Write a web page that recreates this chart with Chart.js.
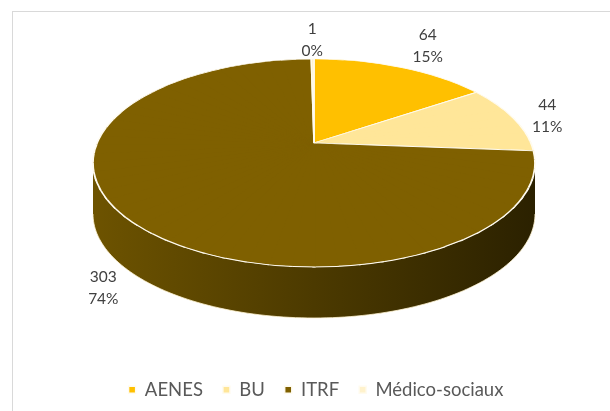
<!DOCTYPE html>
<html>
<head>
<meta charset="utf-8">
<script src="https://cdn.jsdelivr.net/npm/chart.js@4/dist/chart.umd.min.js"></script>
<style>
html,body{margin:0;padding:0;background:#fff;}
#wrap{position:relative;width:610px;height:411px;overflow:hidden;background:#fff;}
#frame{position:absolute;left:12px;top:11px;width:800px;height:600px;border-top:1px solid #d9d9d9;border-left:1px solid #d9d9d9;}
#c{position:absolute;left:0;top:0;}
</style>
</head>
<body>
<div id="wrap"><div id="frame"></div><canvas id="c" width="610" height="411"></canvas></div>
<script>
// ---- data ----
const categories = ['AENES', 'BU', 'ITRF', 'Médico-sociaux'];
const values = [64, 44, 303, 1];
const percentLabels = ['15%', '11%', '74%', '0%'];
const sliceColors = ['#FFC000', '#FFE699', '#7F6000', '#FFF2CC'];

// ---- perspective view of the library's pie (layout only) ----
const PROJ = { ex: 314, ey: 163, rx: 221, ry: 104, k: -0.192, depth: 51, wedges: 72 };
const LABEL = { a: 21, b: 11.3, c: 12.3, lineH: 22, yShift: 2, font: '15.5px Lato', color: '#404040' };

function project(t) {
  const s = Math.sqrt(1 - PROJ.k * PROJ.k);
  const c = Math.cos(t), sn = Math.sin(t);
  const den = 1 + PROJ.k * sn;
  return [PROJ.ex + PROJ.rx * c * s / den, PROJ.ey + PROJ.ry * (sn + PROJ.k) / den];
}
function apex() { return [PROJ.ex, PROJ.ey + PROJ.ry * PROJ.k]; }

function shade(hex, f) {
  const n = parseInt(hex.slice(1), 16);
  const r = Math.round(((n >> 16) & 255) * f), g = Math.round(((n >> 8) & 255) * f), b = Math.round((n & 255) * f);
  return 'rgb(' + r + ',' + g + ',' + b + ')';
}
function unit(v) { const l = Math.hypot(v[0], v[1]); return [v[0] / l, v[1] / l]; }

function drawWall(ctx, els) {
  const lo = Math.asin(-PROJ.k), hi = Math.PI - lo;
  els.forEach((el, i) => {
    const a0 = Math.max(el.startAngle, lo), b0 = Math.min(el.endAngle, hi);
    if (b0 <= a0) return;
    const N = 120;
    ctx.save();
    ctx.beginPath();
    for (let j = 0; j <= N; j++) {
      const p = project(a0 + (b0 - a0) * j / N);
      j ? ctx.lineTo(p[0], p[1]) : ctx.moveTo(p[0], p[1]);
    }
    for (let j = N; j >= 0; j--) {
      const p = project(a0 + (b0 - a0) * j / N);
      ctx.lineTo(p[0], p[1] + PROJ.depth);
    }
    ctx.closePath();
    const col = sliceColors[i];
    const g = ctx.createLinearGradient(PROJ.ex - PROJ.rx, 0, PROJ.ex + PROJ.rx, 0);
    g.addColorStop(0, shade(col, 0.86));
    g.addColorStop(0.5, shade(col, 0.6));
    g.addColorStop(1, shade(col, 0.34));
    ctx.fillStyle = g;
    ctx.fill();
    ctx.beginPath();
    for (let j = 0; j <= N; j++) {
      const p = project(a0 + (b0 - a0) * j / N);
      j ? ctx.lineTo(p[0], p[1] + PROJ.depth) : ctx.moveTo(p[0], p[1] + PROJ.depth);
    }
    ctx.strokeStyle = 'rgba(255,244,210,0.8)';
    ctx.lineWidth = 1;
    ctx.stroke();
    ctx.restore();
  });
}

function drawTopFace(ctx, els) {
  const O = [els[0].x, els[0].y], R = els[0].outerRadius;
  const C = apex();
  const N = PROJ.wedges, step = 2 * Math.PI / N, t0 = -Math.PI / 2;
  for (let w = 0; w < N; w++) {
    const t1 = t0 + w * step, t2 = t1 + step;
    const p = project(t1), q = project(t2);
    const ax = R * Math.cos(t1), ay = R * Math.sin(t1), bx = R * Math.cos(t2), by = R * Math.sin(t2);
    const det = ax * by - bx * ay;
    const i11 = by / det, i12 = -bx / det, i21 = -ay / det, i22 = ax / det;
    const px = p[0] - C[0], py = p[1] - C[1], qx = q[0] - C[0], qy = q[1] - C[1];
    const m11 = px * i11 + qx * i21, m12 = px * i12 + qx * i22;
    const m21 = py * i11 + qy * i21, m22 = py * i12 + qy * i22;
    const r1 = unit([px, py]), r2 = unit([qx, qy]);
    let n1 = [-r1[1], r1[0]]; if (n1[0] * r2[0] + n1[1] * r2[1] > 0) n1 = [-n1[0], -n1[1]];
    let n2 = [-r2[1], r2[0]]; if (n2[0] * r1[0] + n2[1] * r1[1] > 0) n2 = [-n2[0], -n2[1]];
    const bis = unit([r1[0] + r2[0], r1[1] + r2[1]]);
    const e = 1.5, L = 3 * Math.max(Math.hypot(px, py), Math.hypot(qx, qy));
    ctx.save();
    ctx.beginPath();
    ctx.moveTo(C[0] + e * n1[0] - 2 * bis[0], C[1] + e * n1[1] - 2 * bis[1]);
    ctx.lineTo(C[0] + e * n1[0] + L * r1[0], C[1] + e * n1[1] + L * r1[1]);
    ctx.lineTo(C[0] + e * n2[0] + L * r2[0], C[1] + e * n2[1] + L * r2[1]);
    ctx.lineTo(C[0] + e * n2[0] - 2 * bis[0], C[1] + e * n2[1] - 2 * bis[1]);
    ctx.closePath();
    ctx.clip();
    ctx.translate(C[0], C[1]);
    ctx.transform(m11, m21, m12, m22, 0, 0);
    ctx.translate(-O[0], -O[1]);
    els.forEach(el => el.draw(ctx));
    ctx.restore();
  }
}

function drawLabels(ctx, els) {
  const C = apex();
  ctx.save();
  ctx.font = LABEL.font;
  ctx.fillStyle = LABEL.color;
  ctx.textAlign = 'center';
  ctx.textBaseline = 'middle';
  els.forEach((el, i) => {
    const mid = (el.startAngle + el.endAngle) / 2;
    const p = project(mid);
    const u = unit([p[0] - C[0], p[1] - C[1]]);
    const front = Math.sin(mid) > 0;
    const base = front ? [p[0], p[1] + PROJ.depth] : p;
    const d = LABEL.a + LABEL.b * Math.abs(u[0]) + (front ? 0 : LABEL.c * Math.abs(u[0] * u[1]));
    const x = base[0] + u[0] * d, y = base[1] + u[1] * d + LABEL.yShift;
    ctx.fillText(String(values[i]), x, y - LABEL.lineH / 2);
    ctx.fillText(percentLabels[i], x, y + LABEL.lineH / 2);
  });
  ctx.restore();
}

const pie3d = {
  id: 'pie3d',
  beforeDatasetsDraw(chart) {
    const ctx = chart.ctx;
    const els = chart.getDatasetMeta(0).data;
    drawWall(ctx, els);
    drawTopFace(ctx, els);
    drawLabels(ctx, els);
    return false; // slices already drawn by the arc elements above
  }
};

new Chart(document.getElementById('c').getContext('2d'), {
  type: 'pie',
  data: {
    labels: categories,
    datasets: [{
      data: values,
      backgroundColor: sliceColors,
      borderColor: '#FFFBEF',
      borderWidth: 1.4,
      clip: false
    }]
  },
  options: {
    responsive: false,
    animation: false,
    events: [],
    layout: { padding: { top: 20, bottom: 2, left: 22, right: 0 } },
    plugins: {
      legend: {
        position: 'bottom',
        labels: {
          boxWidth: 7, boxHeight: 7, padding: 20,
          color: '#595959',
          font: { family: 'Lato', size: 18.5 }
        }
      },
      tooltip: { enabled: false }
    }
  },
  plugins: [pie3d]
});
</script>
</body>
</html>
